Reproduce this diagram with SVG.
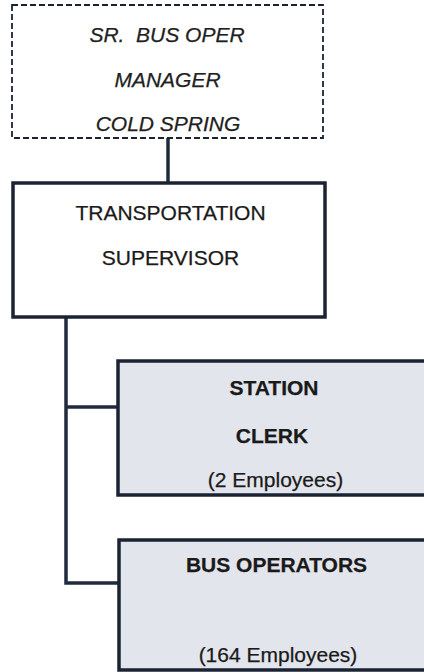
<svg xmlns="http://www.w3.org/2000/svg" width="424" height="672" viewBox="0 0 424 672">
<style>
.bg{fill:#ffffff}
.box{stroke:#1b2333;stroke-width:3.5}
.plain{fill:#ffffff}
.shaded{fill:#e3e5ec}
.dash{fill:#ffffff;stroke:#1b2333;stroke-width:1.8;stroke-dasharray:6 3}
.conn{fill:none;stroke:#1f2b3c;stroke-width:3.5}
text{font-family:"Liberation Sans",Arial,sans-serif;font-size:21px;fill:#1a1a1a;text-anchor:middle;stroke:#1a1a1a;stroke-width:0.25}
.it{font-style:italic;font-size:21px;fill:#222;white-space:pre}
.b{font-weight:bold}
</style>
<rect class="bg" x="0" y="0" width="424" height="672"/>
<g id="connectors">
<path class="conn" d="M168,138 V183"/>
<path class="conn" d="M66,317 V583 H119"/>
<path class="conn" d="M66,407 H118"/>
</g>
<g id="sr-bus-oper-manager">
<rect class="dash" x="12" y="5" width="311" height="133"/>
<text class="it" x="167" y="42" xml:space="preserve">SR.  BUS OPER</text>
<text class="it" x="167.5" y="87">MANAGER</text>
<text class="it" x="168" y="131">COLD SPRING</text>
</g>
<g id="transportation-supervisor">
<rect class="box plain" x="13" y="183" width="312" height="134"/>
<text x="170.5" y="220">TRANSPORTATION</text>
<text x="170.5" y="265">SUPERVISOR</text>
</g>
<g id="station-clerk">
<rect class="box shaded" x="118" y="361" width="320" height="134"/>
<text class="b" x="274" y="395">STATION</text>
<text class="b" x="272" y="443">CLERK</text>
<text x="275.5" y="487">(2 Employees)</text>
</g>
<g id="bus-operators">
<rect class="box shaded" x="119" y="540" width="320" height="130"/>
<text class="b" x="276.5" y="572">BUS OPERATORS</text>
<text x="278" y="662">(164 Employees)</text>
</g>
</svg>
